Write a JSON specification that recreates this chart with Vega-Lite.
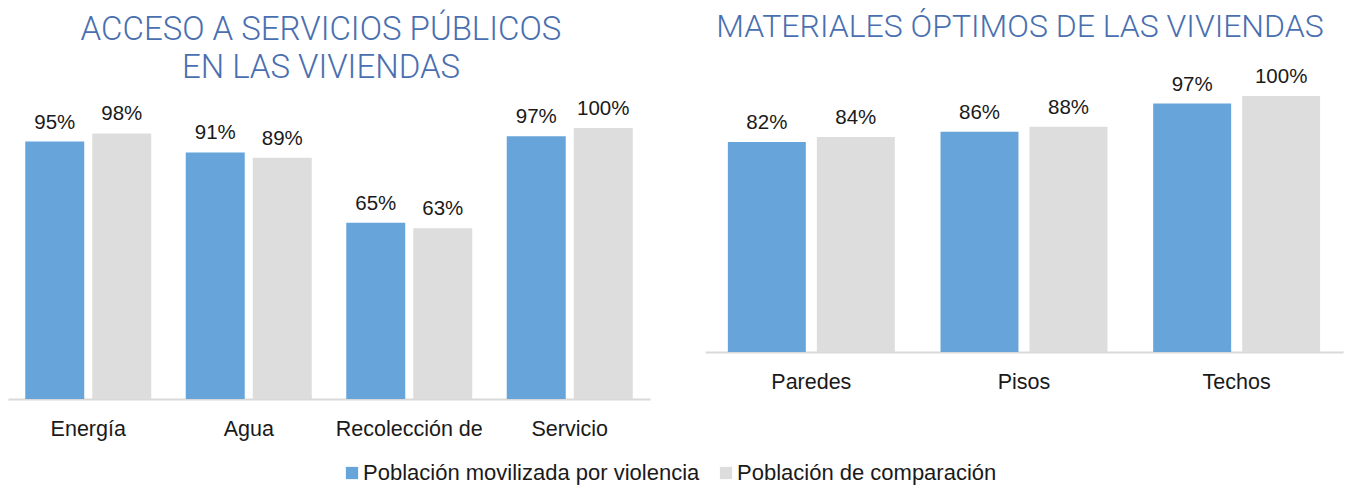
{
  "$schema": "https://vega.github.io/schema/vega-lite/v6.json",
  "padding": {"left": 8, "top": 10, "right": 12, "bottom": 5},
  "background": "white",
  "datasets": {
    "servicios": [
      {"categoria": "Energía", "serie": "Población movilizada por violencia", "valor": 0.95},
      {"categoria": "Energía", "serie": "Población de comparación", "valor": 0.98},
      {"categoria": "Agua", "serie": "Población movilizada por violencia", "valor": 0.91},
      {"categoria": "Agua", "serie": "Población de comparación", "valor": 0.89},
      {"categoria": "Recolección de", "serie": "Población movilizada por violencia", "valor": 0.65},
      {"categoria": "Recolección de", "serie": "Población de comparación", "valor": 0.63},
      {"categoria": "Servicio", "serie": "Población movilizada por violencia", "valor": 0.97},
      {"categoria": "Servicio", "serie": "Población de comparación", "valor": 1.0}
    ],
    "materiales": [
      {"categoria": "Paredes", "serie": "Población movilizada por violencia", "valor": 0.82},
      {"categoria": "Paredes", "serie": "Población de comparación", "valor": 0.84},
      {"categoria": "Pisos", "serie": "Población movilizada por violencia", "valor": 0.86},
      {"categoria": "Pisos", "serie": "Población de comparación", "valor": 0.88},
      {"categoria": "Techos", "serie": "Población movilizada por violencia", "valor": 0.97},
      {"categoria": "Techos", "serie": "Población de comparación", "valor": 1.0}
    ]
  },
  "config": {
    "view": {"stroke": null},
    "font": "Liberation Sans",
    "axisX": {
      "title": null, "labelAngle": 0, "ticks": false, "domainColor": "#D9D9D9", "domainWidth": 2,
      "labelFontSize": 21.5, "labelColor": "#1a1a1a", "labelPadding": 19, "labelLimit": 0, "grid": false
    },
    "title": {"font": "Roboto", "fontWeight": 300, "fontSize": 32.5, "color": "#4A6FB0", "anchor": "middle", "lineHeight": 38}
  },
  "spacing": 55,
  "hconcat": [
    {
      "width": 642,
      "height": 310,
      "title": {"text": ["ACCESO A SERVICIOS PÚBLICOS", "EN LAS VIVIENDAS"], "offset": 4, "fontSize": 33, "dx": -8},
      "data": {"name": "servicios"},
      "encoding": {
        "x": {"field": "categoria", "type": "nominal", "sort": ["Energía", "Agua", "Recolección de", "Servicio"], "scale": {"paddingInner": 0.215, "paddingOuter": 0.1075}},
        "xOffset": {"field": "serie", "type": "nominal", "sort": ["Población movilizada por violencia", "Población de comparación"], "scale": {"paddingInner": 0.12}},
        "y": {"field": "valor", "type": "quantitative", "scale": {"domain": [0, 1.144]}, "axis": null}
      },
      "layer": [
        {
          "mark": {"type": "bar"},
          "encoding": {
            "color": {
              "field": "serie", "type": "nominal",
              "scale": {"domain": ["Población movilizada por violencia", "Población de comparación"], "range": ["#66A4DA", "#DDDDDD"]},
              "legend": {"orient": "none", "legendX": 333, "legendY": 373, "direction": "horizontal", "title": null, "symbolType": "square", "symbolSize": 150, "symbolStrokeWidth": 0, "labelFontSize": 22, "labelColor": "#1a1a1a", "columnPadding": 15, "labelLimit": 0, "labelOffset": 0}
            }
          }
        },
        {
          "mark": {"type": "text", "baseline": "bottom", "dy": -9, "fontSize": 20.5, "color": "#1a1a1a"},
          "encoding": {"text": {"field": "valor", "type": "quantitative", "format": ".0%"}}
        }
      ]
    },
    {
      "width": 638,
      "height": 263,
      "title": {"text": "MATERIALES ÓPTIMOS DE LAS VIVIENDAS", "offset": 23, "fontSize": 32, "dx": -4},
      "data": {"name": "materiales"},
      "encoding": {
        "x": {"field": "categoria", "type": "nominal", "sort": ["Paredes", "Pisos", "Techos"], "scale": {"paddingInner": 0.215, "paddingOuter": 0.1075}},
        "xOffset": {"field": "serie", "type": "nominal", "sort": ["Población movilizada por violencia", "Población de comparación"], "scale": {"paddingInner": 0.124}},
        "y": {"field": "valor", "type": "quantitative", "scale": {"domain": [0, 1.027]}, "axis": null}
      },
      "layer": [
        {
          "mark": {"type": "bar"},
          "encoding": {
            "color": {"field": "serie", "type": "nominal"}
          }
        },
        {
          "mark": {"type": "text", "baseline": "bottom", "dy": -9, "fontSize": 20.5, "color": "#1a1a1a"},
          "encoding": {"text": {"field": "valor", "type": "quantitative", "format": ".0%"}}
        }
      ]
    }
  ],
  "resolve": {"scale": {"color": "shared", "x": "independent", "y": "independent", "xOffset": "independent"}}
}
